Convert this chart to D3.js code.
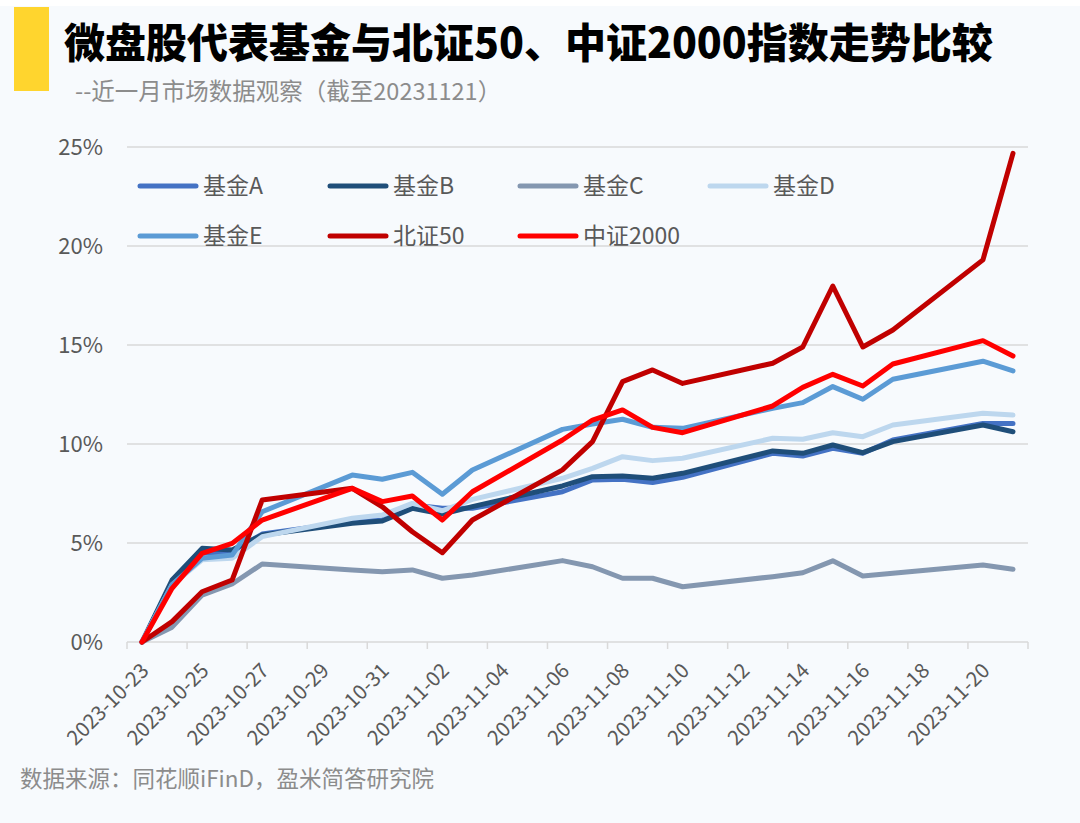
<!DOCTYPE html>
<html>
<head>
<meta charset="utf-8">
<style>
  body { margin: 0; background: #f7fafd; }
  svg { display: block; }
  text { font-family: 'Noto Sans CJK SC', 'Noto Sans', sans-serif; }
</style>
</head>
<body>
<svg width="1080" height="823"></svg>

<script src="https://d3js.org/d3.v7.min.js"></script>
<script>
  // trading days, last month (to 2023-11-21)
  let dates = ["2023-10-23","2023-10-24","2023-10-25","2023-10-26","2023-10-27",
    "2023-10-30","2023-10-31","2023-11-01","2023-11-02","2023-11-03",
    "2023-11-06","2023-11-07","2023-11-08","2023-11-09","2023-11-10",
    "2023-11-13","2023-11-14","2023-11-15","2023-11-16","2023-11-17",
    "2023-11-20","2023-11-21"]

  // cumulative return, %
  let fundA = [0, 2.96, 4.48, 4.56, 5.45, 6.08, 6.16, 6.92, 6.75, 6.75, 7.59, 8.18, 8.22, 8.05, 8.32, 9.53, 9.39, 9.78, 9.53, 10.2, 11.04, 11.04]
  let fundB = [0, 3.13, 4.73, 4.65, 5.4, 6.0, 6.11, 6.75, 6.46, 6.84, 7.88, 8.35, 8.38, 8.27, 8.52, 9.65, 9.53, 9.95, 9.56, 10.12, 10.96, 10.62]
  let fundC = [0, 0.75, 2.37, 2.93, 3.94, 3.64, 3.55, 3.64, 3.22, 3.38, 4.11, 3.8, 3.22, 3.22, 2.79, 3.3, 3.5, 4.1, 3.33, 3.47, 3.89, 3.67]
  let fundD = [0, 2.88, 4.15, 4.23, 5.32, 6.25, 6.41, 7.0, 6.63, 7.2, 8.27, 8.77, 9.36, 9.16, 9.28, 10.29, 10.24, 10.57, 10.37, 10.96, 11.55, 11.46]
  let fundE = [0, 2.9, 4.23, 4.39, 6.58, 8.43, 8.22, 8.57, 7.46, 8.69, 10.74, 11.01, 11.25, 10.84, 10.79, 11.8, 12.09, 12.9, 12.26, 13.27, 14.18, 13.69]
  let bz50 = [0, 1.03, 2.54, 3.13, 7.17, 7.76, 6.83, 5.57, 4.51, 6.16, 8.69, 10.12, 13.15, 13.74, 13.06, 14.08, 14.9, 17.98, 14.9, 15.76, 19.3, 24.68]
  let zz2000 = [0, 2.71, 4.48, 4.98, 6.16, 7.76, 7.09, 7.37, 6.16, 7.59, 10.2, 11.21, 11.72, 10.84, 10.57, 11.92, 12.86, 13.52, 12.93, 14.04, 15.22, 14.44]

  let seriesNames = ["基金A", "基金B", "基金C", "基金D", "基金E", "北证50", "中证2000"]
  let seriesValues = [fundA, fundB, fundC, fundD, fundE, bz50, zz2000]
  let seriesColors = ["#4472c4", "#1f4e79", "#8497b0", "#bdd7ee", "#5b9bd5", "#c00000", "#ff0000"]

  let yTicks = [0, 0.05, 0.10, 0.15, 0.20, 0.25]

  let parse = d3.timeParse("%Y-%m-%d")
  let days = dates.map(parse)

  let svg = d3.select("svg")

  // header
  svg.append("rect").attr("x", 0).attr("y", 0).attr("width", 1080).attr("height", 6).style("fill", "#fff")
  svg.append("rect").attr("x", 14).attr("y", 7).attr("width", 35).attr("height", 84).style("fill", "#ffd52e")

  svg.append("text")
    .attr("x", 64).attr("y", 58)
    .style("font-size", "41px").style("font-weight", 900).style("fill", "#000")
    .text("微盘股代表基金与北证50、中证2000指数走势比较")

  svg.append("text")
    .attr("x", 75).attr("y", 100)
    .style("font-size", "23.5px").style("fill", "#8c8c8c")
    .text("--近一月市场数据观察（截至20231121）")

  svg.append("text")
    .attr("x", 20).attr("y", 787)
    .style("font-size", "22.5px").style("fill", "#8c8c8c")
    .text("数据来源：同花顺iFinD，盈米简答研究院")

  // scales
  let x = d3.scaleTime()
    .domain([parse("2023-10-23"), parse("2023-11-22")])
    .range([127, 1028])

  let y = d3.scaleLinear()
    .domain([0, 0.25])
    .range([642, 147])

  let mid = d => d3.timeHour.offset(d, 12)

  // grid
  svg.selectAll(".grid")
    .data(yTicks)
    .join("line")
    .attr("x1", 127).attr("x2", 1028)
    .attr("y1", d => y(d)).attr("y2", d => y(d))
    .style("stroke", "#d9d9d9").style("stroke-width", 1.5)

  svg.selectAll(".ylab")
    .data(yTicks)
    .join("text")
    .attr("x", 103).attr("y", d => y(d))
    .attr("dy", "0.35em")
    .attr("text-anchor", "end")
    .style("font-size", "22px").style("fill", "#595959")
    .text(d3.format(".0%"))

  // x axis: one slot per calendar day, tick every 2 days
  let tickDays = d3.timeDay.range(parse("2023-10-23"), parse("2023-11-23"), 2)
  svg.selectAll(".xtick")
    .data(tickDays)
    .join("line")
    .attr("x1", d => x(d)).attr("x2", d => x(d))
    .attr("y1", 642).attr("y2", 649)
    .style("stroke", "#d9d9d9").style("stroke-width", 1.5)

  let labelDays = tickDays.slice(0, -1)
  svg.selectAll(".xlab")
    .data(labelDays)
    .join("text")
    .attr("transform", d => `translate(${x(mid(d)) + 8},${672}) rotate(-45)`)
    .attr("text-anchor", "end")
    .style("font-size", "20.5px").style("fill", "#595959")
    .text(d3.timeFormat("%Y-%m-%d"))

  // lines
  let line = d3.line()
    .x((d, i) => x(mid(days[i])))
    .y(d => y(d / 100))

  svg.selectAll(".series")
    .data(seriesValues)
    .join("path")
    .attr("d", line)
    .style("fill", "none")
    .style("stroke", (d, i) => seriesColors[i])
    .style("stroke-width", 5)
    .style("stroke-linejoin", "round")
    .style("stroke-linecap", "round")

  // legend, 4 per row
  let legend = svg.selectAll(".legend")
    .data(seriesNames)
    .join("g")
    .attr("transform", (d, i) => `translate(${140 + (i % 4) * 190},${186 + Math.floor(i / 4) * 50})`)

  legend.append("line")
    .attr("x1", 0).attr("x2", 56)
    .style("stroke", (d, i) => seriesColors[i])
    .style("stroke-width", 5)
    .style("stroke-linecap", "round")

  legend.append("text")
    .attr("x", 63).attr("dy", "0.35em")
    .style("font-size", "23px").style("fill", "#595959")
    .text(d => d)
</script>
</body>
</html>
